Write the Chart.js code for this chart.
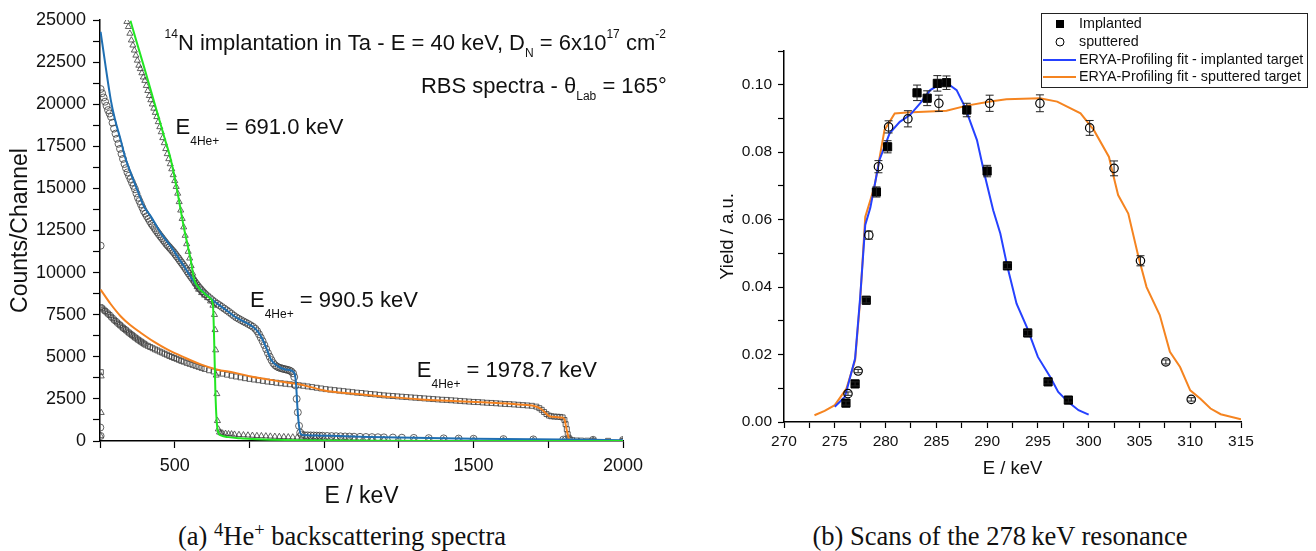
<!DOCTYPE html>
<html>
<head>
<meta charset="utf-8">
<script src="https://cdn.jsdelivr.net/npm/chart.js@4.4.0/dist/chart.umd.min.js"></script>
<style>
body { margin:0; background:#fff; width:1316px; height:551px; position:relative; overflow:hidden; }
#boxA { position:absolute; left:0; top:0; width:690px; height:515px; }
#boxB { position:absolute; left:690px; top:0; width:626px; height:490px; }
.cap { position:absolute; top:520px; font-family:"Liberation Serif","DejaVu Serif",serif; font-size:26.5px; color:#111; white-space:nowrap; transform:translateX(-50%); line-height:32px; }
.cap sup { font-size:0.7em; vertical-align:0.5em; line-height:0; }
</style>
</head>
<body>
<div id="boxA"><canvas id="rbsChart"></canvas></div>
<div id="boxB"><canvas id="scanChart"></canvas></div>
<div class="cap" style="left:342px">(a) <sup>4</sup>He<sup>+</sup> backscattering spectra</div>
<div class="cap" style="left:1000px">(b) Scans of the 278&thinsp;keV resonance</div>
<script>
const SANS = '"Liberation Sans", Arial, sans-serif';

// ---- (a) RBS spectra, E in keV, counts per channel ----
const greenFitE = [352, 370, 397, 420, 442, 465, 487, 510, 531, 553, 565, 580, 600, 620, 628, 632, 636, 640, 645, 655, 680, 720, 760, 820, 900, 1000, 1200, 1500, 2000];
const greenFitC = [24950, 23850, 22230, 20820, 19470, 18050, 16700, 14700, 12650, 10800, 9600, 9100, 8750, 8450, 8050, 6000, 3000, 1300, 550, 330, 230, 160, 120, 80, 50, 30, 15, 5, 0];

const blueFitE = [252, 270, 286, 300, 319, 335, 353, 375, 397, 420, 453, 487, 509, 531, 576, 632, 670, 699, 730, 766, 780, 794, 808, 822, 844, 870, 894, 902, 906, 911, 916, 922, 935, 978, 1050, 1150, 1300, 1500, 1700, 2000];
const blueFitC = [24300, 22100, 20260, 19100, 17890, 16800, 15910, 14900, 13930, 13340, 12360, 11560, 10970, 10380, 9190, 8300, 7800, 7410, 7100, 6720, 6450, 6030, 5450, 4840, 4450, 4250, 4150, 3950, 3400, 1880, 900, 400, 340, 330, 290, 240, 190, 140, 100, 50];

const orangeFitE = [252, 285, 319, 350, 386, 430, 475, 530, 587, 640, 699, 750, 810, 865, 921, 1000, 1100, 1200, 1323, 1430, 1547, 1650, 1703, 1726, 1740, 1753, 1775, 1798, 1805, 1809, 1815, 1820, 1830, 2000];
const orangeFitC = [8990, 8150, 7410, 6900, 6430, 5900, 5440, 4980, 4550, 4250, 4060, 3850, 3660, 3500, 3360, 3000, 2800, 2640, 2470, 2380, 2280, 2170, 2080, 1900, 1680, 1480, 1420, 1390, 1250, 890, 400, 100, 0, 0];

const greenDataE = [254, 254, 252,
  340, 345, 350, 355, 360, 365, 370, 375, 380, 385, 390, 395, 400, 405, 410, 415, 420, 425, 430, 435, 440, 445, 450, 455, 460, 465, 470, 475, 480, 485, 490, 495, 500, 505, 510, 515, 520, 525, 530, 535, 540, 545, 550, 555, 560, 565, 570, 575, 580, 590, 600, 610, 620, 628,
  633, 635, 637, 639, 641, 643, 646, 650, 655, 660, 670, 680, 690, 700, 715, 730, 745, 760, 775, 790, 805, 820, 835, 850, 865, 880, 895, 910, 925, 940, 955, 970, 985, 1000,
  1020, 1040, 1060, 1080, 1100, 1130, 1160, 1200, 1250, 1300, 1350, 1400, 1450, 1500, 1600, 1700, 1800, 1900, 2000];
const greenDataC = [3850, 1680, 300,
  24900, 24600, 24200, 23800, 23500, 23200, 22900, 22600, 22300, 22100, 21850, 21600, 21400, 21100, 20800, 20500, 20250, 20000, 19750, 19500, 19250, 18950, 18650, 18350, 18000, 17700, 17350, 17050, 16750, 16450, 16150, 15800, 15450, 15100, 14700, 14200, 13700, 13200, 12700, 12200, 11700, 11250, 10850, 10400, 9950, 9600, 9350, 9150, 9000, 8800, 8650, 8500, 8300, 8050,
  7500, 6600, 5400, 3900, 2800, 1200, 700, 520, 480, 460, 440, 420, 410, 390, 370, 355, 340, 325, 310, 300, 290, 275, 265, 255, 245, 235, 225, 215, 205, 195, 190, 180, 175, 165,
  155, 145, 140, 130, 125, 115, 105, 95, 85, 80, 70, 65, 60, 55, 45, 40, 30, 25, 20];

const blueDataE = [251, 252, 252,
  252, 257, 262, 267, 272, 277, 282, 287, 292, 297, 302, 307, 312, 317, 322, 327, 332, 337, 342, 347, 352, 357, 362, 367, 372, 377, 382, 387, 392, 397, 402, 407, 412, 417, 422, 427, 432, 437, 442, 447, 452, 457, 462, 467, 472, 477, 482, 487, 492, 497, 502, 507, 512, 517, 522, 527, 532, 537, 542, 547, 552, 557, 562, 567, 572, 577, 582, 587, 592, 597, 602,
  610, 618, 626, 634, 642, 650, 658, 666, 674, 682, 690, 698, 706, 714, 722, 730, 738, 746, 754, 762, 770, 776, 782, 788, 794, 800, 806, 812, 818, 824, 830, 836, 842, 848, 854, 860, 866, 872, 878, 884, 890, 896, 900, 904, 908, 912, 916, 920,
  925, 935, 945, 955, 965, 975, 985, 995, 1010, 1025, 1040, 1055, 1070, 1085, 1100, 1120, 1140, 1160, 1180, 1200, 1230, 1260, 1300, 1350, 1400, 1450, 1500, 1600, 1700, 1800, 1900, 2000];
const blueDataC = [800, 11600, 300,
  20900, 20650, 20400, 20150, 19900, 19650, 19450, 19250, 18900, 18550, 18250, 17950, 17650, 17350, 17050, 16750, 16450, 16200, 15950, 15750, 15550, 15350, 15150, 14950, 14700, 14450, 14250, 14050, 13850, 13650, 13500, 13350, 13200, 13050, 12900, 12780, 12650, 12520, 12400, 12280, 12160, 12050, 11930, 11820, 11700, 11600, 11500, 11400, 11300, 11200, 11080, 10960, 10850, 10720, 10600, 10480, 10350, 10220, 10080, 9950, 9820, 9700, 9580, 9450, 9330, 9210, 9100, 9000, 8900, 8800, 8720,
  8600, 8480, 8360, 8250, 8150, 8060, 7960, 7860, 7760, 7660, 7550, 7440, 7340, 7260, 7180, 7100, 7030, 6950, 6870, 6780, 6660, 6520, 6340, 6140, 5930, 5700, 5460, 5220, 5000, 4800, 4620, 4500, 4420, 4370, 4330, 4300, 4270, 4250, 4220, 4190, 4130, 4020, 3800, 3300, 2500, 1700, 900, 500,
  380, 340, 335, 330, 325, 320, 315, 310, 300, 292, 285, 278, 270, 262, 255, 246, 238, 230, 222, 215, 205, 195, 182, 168, 155, 143, 132, 112, 95, 82, 70, 60];

const orangeDataE = [253,
  252, 257, 262, 267, 272, 277, 282, 287, 292, 297, 302, 307, 312, 317, 322, 327, 332, 337, 342, 347, 352, 357, 362, 367, 372, 377, 382, 387, 392, 397, 402, 410, 418, 426, 434, 442, 450, 458, 466, 474, 482, 490, 498, 506, 514, 522, 530, 540, 550, 560, 570, 580, 590, 600,
  615, 630, 645, 660, 675, 690, 705, 720, 735, 750, 765, 780, 795, 810, 825, 840, 855, 870, 885, 900, 915, 930, 945, 960, 975, 990, 1005, 1020, 1035, 1050, 1065, 1080, 1095, 1110, 1125, 1140, 1155, 1170, 1185, 1200,
  1215, 1230, 1245, 1260, 1275, 1290, 1305, 1320, 1335, 1350, 1365, 1380, 1395, 1410, 1425, 1440, 1455, 1470, 1485, 1500, 1515, 1530, 1545, 1560, 1575, 1590, 1605, 1620, 1635, 1650, 1665, 1680, 1695, 1710,
  1720, 1728, 1736, 1744, 1752, 1760, 1770, 1780, 1790, 1798, 1804, 1808, 1812, 1815, 1818, 1822, 1830, 1845, 1860, 1880, 1900, 1950, 2000];
const orangeDataC = [4090,
  7950, 7880, 7800, 7720, 7640, 7560, 7480, 7380, 7290, 7200, 7120, 7040, 6960, 6880, 6800, 6720, 6650, 6580, 6500, 6430, 6360, 6290, 6220, 6150, 6090, 6020, 5960, 5900, 5840, 5780, 5720, 5650, 5580, 5510, 5440, 5380, 5310, 5250, 5180, 5120, 5050, 4990, 4930, 4880, 4820, 4760, 4710, 4640, 4580, 4520, 4460, 4400, 4340, 4280,
  4200, 4130, 4060, 4000, 3940, 3880, 3830, 3780, 3730, 3690, 3650, 3610, 3570, 3530, 3500, 3460, 3430, 3400, 3370, 3340, 3310, 3280, 3240, 3200, 3160, 3120, 3080, 3050, 3020, 2990, 2960, 2930, 2900, 2870, 2850, 2820, 2790, 2770, 2740, 2710,
  2690, 2670, 2650, 2630, 2610, 2590, 2570, 2550, 2530, 2510, 2490, 2470, 2450, 2440, 2420, 2400, 2380, 2360, 2340, 2320, 2310, 2290, 2270, 2260, 2240, 2220, 2200, 2190, 2170, 2150, 2130, 2110, 2090, 2040,
  1950, 1850, 1720, 1600, 1510, 1470, 1450, 1440, 1430, 1400, 1250, 1000, 700, 400, 200, 100, 50, 30, 25, 20, 18, 10, 5];

// ---- (b) resonance scans, E in keV, yield in a.u. ----
const eImpl = [276.1, 277.0, 278.1, 279.1, 280.2, 283.1, 284.1, 285.1, 286.0, 288.0, 290.0, 292.0, 294.0, 296.0, 298.0];
const yImpl = [0.0056, 0.0113, 0.0361, 0.0682, 0.0816, 0.0976, 0.0960, 0.1004, 0.1006, 0.0925, 0.0744, 0.0463, 0.0264, 0.0119, 0.0065];
const errImpl = [0.0006, 0.0006, 0.0008, 0.0015, 0.0018, 0.0023, 0.0022, 0.0023, 0.0020, 0.0020, 0.0017, 0.0008, 0.0008, 0.0006, 0.0006];

const eSput = [276.3, 277.3, 278.35, 279.3, 280.3, 282.2, 285.25, 290.25, 295.2, 300.1, 302.5, 305.1, 307.6, 310.1];
const ySput = [0.0084, 0.0151, 0.0554, 0.0757, 0.0875, 0.0899, 0.0945, 0.0945, 0.0945, 0.0872, 0.0752, 0.0478, 0.0178, 0.0067];
const errSput = [0.0005, 0.0005, 0.0012, 0.0018, 0.0018, 0.0024, 0.0024, 0.0024, 0.0025, 0.0022, 0.0022, 0.0015, 0.0006, 0.0005];

const fitImplE = [275.0, 276.0, 277.0, 277.5, 278.0, 278.5, 279.4, 280.4, 281.4, 282.4, 283.4, 284.4, 285.4, 286.0, 287.0, 287.8, 289.0, 289.8, 290.6, 291.3, 292.0, 292.9, 293.9, 295.0, 296.2, 297.0, 298.0, 299.0, 300.0];
const fitImplY = [0.0045, 0.0075, 0.0188, 0.0370, 0.0584, 0.0635, 0.0777, 0.0856, 0.0890, 0.0910, 0.0945, 0.0984, 0.1002, 0.1006, 0.0984, 0.0935, 0.0836, 0.0727, 0.0628, 0.0559, 0.0460, 0.0351, 0.0282, 0.0193, 0.0134, 0.0089, 0.0059, 0.0035, 0.0022];

const fitSputE = [273.0, 274.0, 275.0, 276.15, 277.0, 277.5, 278.0, 278.9, 279.9, 280.9, 282.1, 286.0, 288.0, 290.3, 291.9, 295.2, 296.9, 299.2, 300.5, 302.0, 302.3, 302.9, 303.9, 304.9, 305.7, 307.0, 308.0, 309.0, 310.0, 311.0, 312.0, 313.0, 315.0];
const fitSputY = [0.0020, 0.0033, 0.0050, 0.0099, 0.0183, 0.0361, 0.0608, 0.0697, 0.0866, 0.0915, 0.0918, 0.0923, 0.0938, 0.0950, 0.0957, 0.0960, 0.0950, 0.0915, 0.0866, 0.0786, 0.0747, 0.0673, 0.0618, 0.0490, 0.0400, 0.0317, 0.0208, 0.0163, 0.0094, 0.0069, 0.0040, 0.0023, 0.0008];

const legendLabels = ['Implanted', 'sputtered', 'ERYA-Profiling fit - implanted target', 'ERYA-Profiling fit - sputtered target'];

const pts = (xs, ys) => xs.map((x, i) => ({x: x, y: ys[i]}));

// annotation texts of panel (a), anchored in data units
const notes = [
  {E: 466, C: 23666, sub: 7, parts: [['14', 'sup'], ['N implantation in Ta - E = 40 keV, D', ''], ['N', 'sub'], [' = 6x10', ''], ['17', 'sup'], [' cm', ''], ['-2', 'sup']]},
  {E: 1324, C: 21146, sub: 7, parts: [['RBS spectra - θ', ''], ['Lab', 'sub'], [' = 165°', '']]},
  {E: 503, C: 18674, sub: 11, parts: [['E', ''], ['4He+', 'sub'], [' = 691.0 keV', '']]},
  {E: 752, C: 8441, sub: 11, parts: [['E', ''], ['4He+', 'sub'], [' = 990.5 keV', '']]},
  {E: 1310, C: 4298, sub: 11, parts: [['E', ''], ['4He+', 'sub'], [' = 1978.7 keV', '']]}
];

const notePlugin = {
  id: 'notes',
  afterDraw(chart) {
    const {ctx, scales: {x, y}} = chart;
    const size = 22;
    ctx.save();
    ctx.fillStyle = '#111';
    ctx.textBaseline = 'alphabetic';
    notes.forEach(n => {
      let cx = x.getPixelForValue(n.E);
      const base = y.getPixelForValue(n.C) + size * 0.36;
      n.parts.forEach(p => {
        const small = p[1] !== '';
        ctx.font = (small ? Math.round(size * 0.55) : size) + 'px ' + SANS;
        const dy = p[1] === 'sup' ? -size * 0.55 : p[1] === 'sub' ? n.sub : 0;
        ctx.fillText(p[0], cx, base + dy);
        cx += ctx.measureText(p[0]).width;
      });
    });
    ctx.restore();
  }
};

const markerGrey = 'rgba(60,60,60,0.8)';
const fitLine = (data, color) => ({data: data, showLine: true, borderColor: color, borderWidth: 2, pointRadius: 0, cubicInterpolationMode: 'monotone', order: 0});
const dataPts = (data, style) => ({data: data, showLine: false, pointStyle: style, pointRadius: 3.5, pointBorderWidth: 1, borderColor: markerGrey, backgroundColor: 'rgba(255,255,255,0)', order: 1});

const axisCommon = {
  border: {color: '#000', width: 1.5},
  grid: {drawOnChartArea: false, drawTicks: true, tickLength: 7, tickColor: '#000', tickWidth: 1.2},
};

new Chart('rbsChart', {
  type: 'scatter',
  data: {
    datasets: [
      fitLine(pts(greenFitE, greenFitC), '#22e622'),
      fitLine(pts(blueFitE, blueFitC), '#1f6fb2'),
      fitLine(pts(orangeFitE, orangeFitC), '#f5821f'),
      dataPts(pts(greenDataE, greenDataC), 'triangle'),
      dataPts(pts(blueDataE, blueDataC), 'circle'),
      dataPts(pts(orangeDataE, orangeDataC), 'rect')
    ]
  },
  options: {
    responsive: true,
    maintainAspectRatio: false,
    animation: false,
    layout: {padding: {top: 20, right: 67, left: 0, bottom: 0}},
    plugins: {legend: {display: false}, tooltip: {enabled: false}},
    scales: {
      x: Object.assign({}, axisCommon, {
        type: 'linear', min: 250, max: 2000,
        afterFit: s => { s.height = 74; },
        ticks: {stepSize: 250, autoSkip: false, maxRotation: 0, padding: 7, color: '#111', font: {family: SANS, size: 18},
          callback: v => (v % 500 === 0 ? v : '')},
        title: {display: true, text: 'E / keV', color: '#111', font: {family: SANS, size: 23}, padding: {top: 0, bottom: 5}}
      }),
      y: Object.assign({}, axisCommon, {
        min: 0, max: 25000,
        afterFit: s => { s.width = 100; },
        ticks: {stepSize: 1250, autoSkip: false, padding: 7, color: '#111', font: {family: SANS, size: 18},
          callback: v => (v % 2500 === 0 ? v : '')},
        title: {display: true, text: 'Counts/Channel', color: '#111', font: {family: SANS, size: 23}, padding: {top: 7, bottom: 0}}
      })
    }
  },
  plugins: [notePlugin]
});

const errorBars = {
  id: 'errorBars',
  afterDatasetsDraw(chart) {
    const {ctx, scales: {x, y}} = chart;
    ctx.save();
    ctx.strokeStyle = '#222';
    ctx.lineWidth = 1;
    [[eImpl, yImpl, errImpl], [eSput, ySput, errSput]].forEach(([es, ys, errs]) => {
      es.forEach((e, i) => {
        const px = x.getPixelForValue(e);
        const top = y.getPixelForValue(ys[i] + errs[i]);
        const bot = y.getPixelForValue(ys[i] - errs[i]);
        ctx.beginPath();
        ctx.moveTo(px, top); ctx.lineTo(px, bot);
        ctx.moveTo(px - 4, top); ctx.lineTo(px + 4, top);
        ctx.moveTo(px - 4, bot); ctx.lineTo(px + 4, bot);
        ctx.stroke();
      });
    });
    ctx.restore();
  }
};

const boxLegend = {
  id: 'boxLegend',
  afterDraw(chart) {
    const ctx = chart.ctx;
    const left = chart.width - 275, top = 13, w = 266, h = 74;
    ctx.save();
    ctx.fillStyle = '#fff';
    ctx.fillRect(left, top, w, h);
    ctx.strokeStyle = '#222';
    ctx.lineWidth = 1;
    ctx.strokeRect(left + 0.5, top + 0.5, w, h);
    const rows = [11, 29, 47, 64];
    ctx.font = '14.3px ' + SANS;
    ctx.textBaseline = 'middle';
    rows.forEach((ry, i) => {
      const cy = top + ry;
      if (i === 0) {
        ctx.fillStyle = '#000';
        ctx.fillRect(left + 15, cy - 4, 8, 8);
      } else if (i === 1) {
        ctx.strokeStyle = '#000';
        ctx.beginPath(); ctx.arc(left + 19, cy, 4, 0, Math.PI * 2); ctx.stroke();
      } else {
        ctx.strokeStyle = i === 2 ? '#2541ff' : '#f58420';
        ctx.lineWidth = 2;
        ctx.beginPath(); ctx.moveTo(left + 2, cy); ctx.lineTo(left + 35, cy); ctx.stroke();
        ctx.lineWidth = 1;
      }
      ctx.fillStyle = '#111';
      ctx.fillText(legendLabels[i], left + 38, cy);
    });
    ctx.restore();
  }
};

new Chart('scanChart', {
  type: 'scatter',
  data: {
    datasets: [
      {label: legendLabels[0], data: pts(eImpl, yImpl), pointStyle: 'rect', pointRadius: 5.8, backgroundColor: '#000', borderColor: '#000', order: 0},
      {label: legendLabels[1], data: pts(eSput, ySput), pointStyle: 'circle', pointRadius: 4.2, pointBorderWidth: 1.2, backgroundColor: 'rgba(255,255,255,0)', borderColor: '#000', order: 0},
      {label: legendLabels[2], data: pts(fitImplE, fitImplY), showLine: true, pointRadius: 0, borderColor: '#2541ff', borderWidth: 2, order: 1},
      {label: legendLabels[3], data: pts(fitSputE, fitSputY), showLine: true, pointRadius: 0, borderColor: '#f58420', borderWidth: 2, order: 1}
    ]
  },
  options: {
    responsive: true,
    maintainAspectRatio: false,
    animation: false,
    layout: {padding: {top: 51, right: 75, left: 0, bottom: 0}},
    plugins: {legend: {display: false}, tooltip: {enabled: false}},
    scales: {
      x: Object.assign({}, axisCommon, {
        type: 'linear', min: 270, max: 315,
        grid: {drawOnChartArea: false, drawTicks: true, tickLength: 6, tickColor: '#000', tickWidth: 1.2},
        afterFit: s => { s.height = 68; },
        ticks: {stepSize: 2.5, autoSkip: false, maxRotation: 0, padding: 4, color: '#111', font: {family: SANS, size: 15.5},
          callback: v => (v % 5 === 0 ? v : '')},
        title: {display: true, text: 'E / keV', color: '#111', font: {family: SANS, size: 18.5}, padding: {top: 0, bottom: 10}}
      }),
      y: Object.assign({}, axisCommon, {
        min: 0, max: 0.11,
        grid: {drawOnChartArea: false, drawTicks: true, tickLength: 6, tickColor: '#000', tickWidth: 1.2},
        afterFit: s => { s.width = 94; },
        ticks: {stepSize: 0.01, autoSkip: false, padding: 6, color: '#111', font: {family: SANS, size: 15.5},
          callback: v => { const r = Math.round(v * 100); return (r % 2 === 0 && r <= 10) ? (r / 100).toFixed(2) : ''; }},
        title: {display: true, text: 'Yield / a.u.', color: '#111', font: {family: SANS, size: 18.5}, padding: {top: 27, bottom: 0}}
      })
    }
  },
  plugins: [errorBars, boxLegend]
});
</script>
</body>
</html>
